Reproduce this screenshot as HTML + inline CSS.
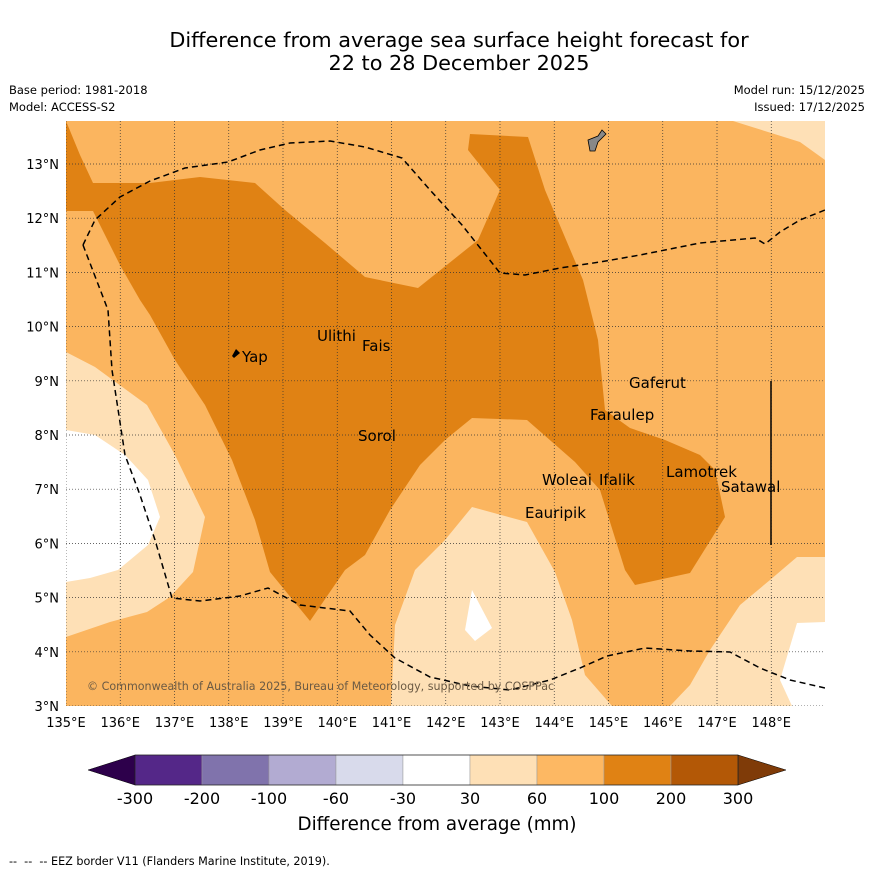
<!DOCTYPE html>
<html><head><meta charset="utf-8"><style>
body{margin:0;background:#fff;font-family:"Liberation Sans",sans-serif;}
svg text{font-family:"DejaVu Sans","Liberation Sans",sans-serif;}
</style></head><body>
<svg id="c" width="873" height="873" viewBox="0 0 873 873">
<rect width="873" height="873" fill="#fff"/>
<text x="459" y="47" font-size="20.8" text-anchor="middle">Difference from average sea surface height forecast for</text>
<text x="459" y="70" font-size="20.8" text-anchor="middle">22 to 28 December 2025</text>
<text x="9" y="94" font-size="11.5">Base period: 1981-2018</text>
<text x="9" y="111" font-size="11.5">Model: ACCESS-S2</text>
<text x="865" y="94" font-size="11.5" text-anchor="end">Model run: 15/12/2025</text>
<text x="865" y="111" font-size="11.5" text-anchor="end">Issued: 17/12/2025</text>
<defs><clipPath id="mc"><rect x="66" y="121" width="759" height="585"/></clipPath></defs>
<g clip-path="url(#mc)">
<rect x="66" y="121" width="759" height="585" fill="#fbb55f"/>
<polygon fill="#e08214" points="66,121 66,211 93,211 120,265 140,300 150,315 175,360 205,405 232,460 255,520 270,572 310,621 345,570 365,555 390,510 420,465 445,440 472,418 527,420 575,462 600,490 625,570 635,585 690,573 725,517 715,470 700,455 665,440 630,428 605,410 598,340 583,280 545,190 528,137 470,134 468,150 500,190 478,240 418,288 365,277 325,243 285,210 255,183 200,177 150,183 93,183 80,155"/>
<polygon fill="#fee0b6" points="66,352 95,367 147,405 175,455 205,517 193,572 170,597 147,612 110,622 66,637"/>
<polygon fill="#fff" points="66,430 95,435 125,455 148,480 160,517 148,545 118,570 90,578 66,582"/>
<polygon fill="#fee0b6" points="391,706 395,625 415,570 445,540 472,507 527,522 555,572 572,620 585,675 612,706"/>
<polygon fill="#fff" points="472,590 492,628 475,641 465,630"/>
<polygon fill="#fee0b6" points="670,706 690,685 710,650 740,605 770,580 797,557 825,557 825,706"/>
<polygon fill="#fff" points="792,706 780,680 797,623 825,622 825,706"/>
<polygon fill="#fee0b6" points="733,121 800,142 825,160 825,121"/>
<g id="grid"></g>
<polyline fill="none" stroke="#000" stroke-width="1.5" stroke-dasharray="6,4" points="83,245 95,220 120,197 150,181 185,168 228,162 260,150 290,143 330,141 365,147 402,158 430,190 462,225 500,273 525,275 560,268 600,262 640,255 700,243 755,238 765,244 780,232 800,220 825,210"/>
<polyline fill="none" stroke="#000" stroke-width="1.5" stroke-dasharray="6,4" points="83,245 108,310 112,370 125,455 140,495 155,540 172,598 200,601 240,596 268,588 300,605 350,611 370,635 395,658 430,677 470,686 510,690 550,680 580,668 607,656 645,648 690,651 730,652 760,668 790,680 825,688"/>
<polygon fill="#888" stroke="#000" stroke-width="0.8" points="588,140 598,136 602,130 606,134 598,142 595,151 590,151"/>
<polygon fill="#000" points="236,349 240,353 234,358 232,356"/>
<line x1="771" y1="381" x2="771" y2="545" stroke="#000" stroke-width="1.5"/>
<g font-size="15">
<text x="242" y="362">Yap</text>
<text x="317" y="341">Ulithi</text>
<text x="362" y="351">Fais</text>
<text x="629" y="388">Gaferut</text>
<text x="590" y="420">Faraulep</text>
<text x="358" y="441">Sorol</text>
<text x="542" y="485">Woleai</text>
<text x="599" y="485">Ifalik</text>
<text x="666" y="477">Lamotrek</text>
<text x="721" y="492">Satawal</text>
<text x="525" y="518">Eauripik</text>
</g>
<text x="87" y="690" font-size="11.1" fill="#6b5a44">© Commonwealth of Australia 2025, Bureau of Meteorology, supported by COSPPac</text>
</g>
<g id="axes" font-size="13"></g>
<g id="cbar"></g>
<text x="437" y="830" font-size="18.3" text-anchor="middle">Difference from average (mm)</text>
<text x="9" y="865" font-size="11.2" xml:space="preserve">--  --  -- EEZ border V11 (Flanders Marine Institute, 2019).</text>
</svg>
<script>
const lonTicks=[135,136,137,138,139,140,141,142,143,144,145,146,147,148];
const latTicks=[3,4,5,6,7,8,9,10,11,12,13];
const cbLevels=["-300","-200","-100","-60","-30","30","60","100","200","300"];
const cbColors=["#542788","#8073ac","#b2abd2","#d8daeb","#ffffff","#fee0b6","#fdb863","#e08214","#b35806"];
const NS="http://www.w3.org/2000/svg";
const xOf=lon=>66+(lon-135)*54.25;
const yOf=lat=>706-(lat-3)*54.2;
function mk(t,a,p){const e=document.createElementNS(NS,t);for(const k in a)e.setAttribute(k,a[k]);p.appendChild(e);return e;}
const grid=document.getElementById('grid'),axes=document.getElementById('axes');
lonTicks.forEach(l=>{
 const g=mk('line',{x1:xOf(l),x2:xOf(l),y1:121,y2:706,stroke:'#333','stroke-width':0.7,'stroke-dasharray':'1,2'},grid);
 
 
 const t=mk('text',{x:xOf(l),y:727,'text-anchor':'middle'},axes);t.textContent=l+'°E';
 
 
});
latTicks.forEach(l=>{
 const g=mk('line',{x1:66,x2:825,y1:yOf(l),y2:yOf(l),stroke:'#333','stroke-width':0.7,'stroke-dasharray':'1,2'},grid);
 
 
 const t=mk('text',{x:59,y:yOf(l)+5,'text-anchor':'end'},axes);t.textContent=l+'°N';
 
 
});
const cb=document.getElementById('cbar');
const x0=135,w=67,y0=755,h=30;
const la=mk('polygon',{points:`${x0},${y0} 88,${y0+h/2} ${x0},${y0+h}`,fill:'#2d004b',stroke:'#000','stroke-width':0.5},cb);


const xe=x0+w*cbColors.length;
const ra=mk('polygon',{points:`${xe},${y0} 786,${y0+h/2} ${xe},${y0+h}`,fill:'#7f3b08',stroke:'#000','stroke-width':0.5},cb);


cbColors.forEach((c,i)=>{
 const r=mk('rect',{x:x0+w*i,y:y0,width:w,height:h,fill:c,stroke:'#999','stroke-width':0.5},cb);
 
 
});
mk('rect',{x:x0,y:y0,width:w*cbColors.length,height:h,fill:'none',stroke:'#000','stroke-width':0.6},cb);
cbLevels.forEach((v,i)=>{
 const t=mk('text',{x:x0+w*i,y:804,'text-anchor':'middle','font-size':16},cb);t.textContent=v;
 
 
});
</script>
</body></html>
